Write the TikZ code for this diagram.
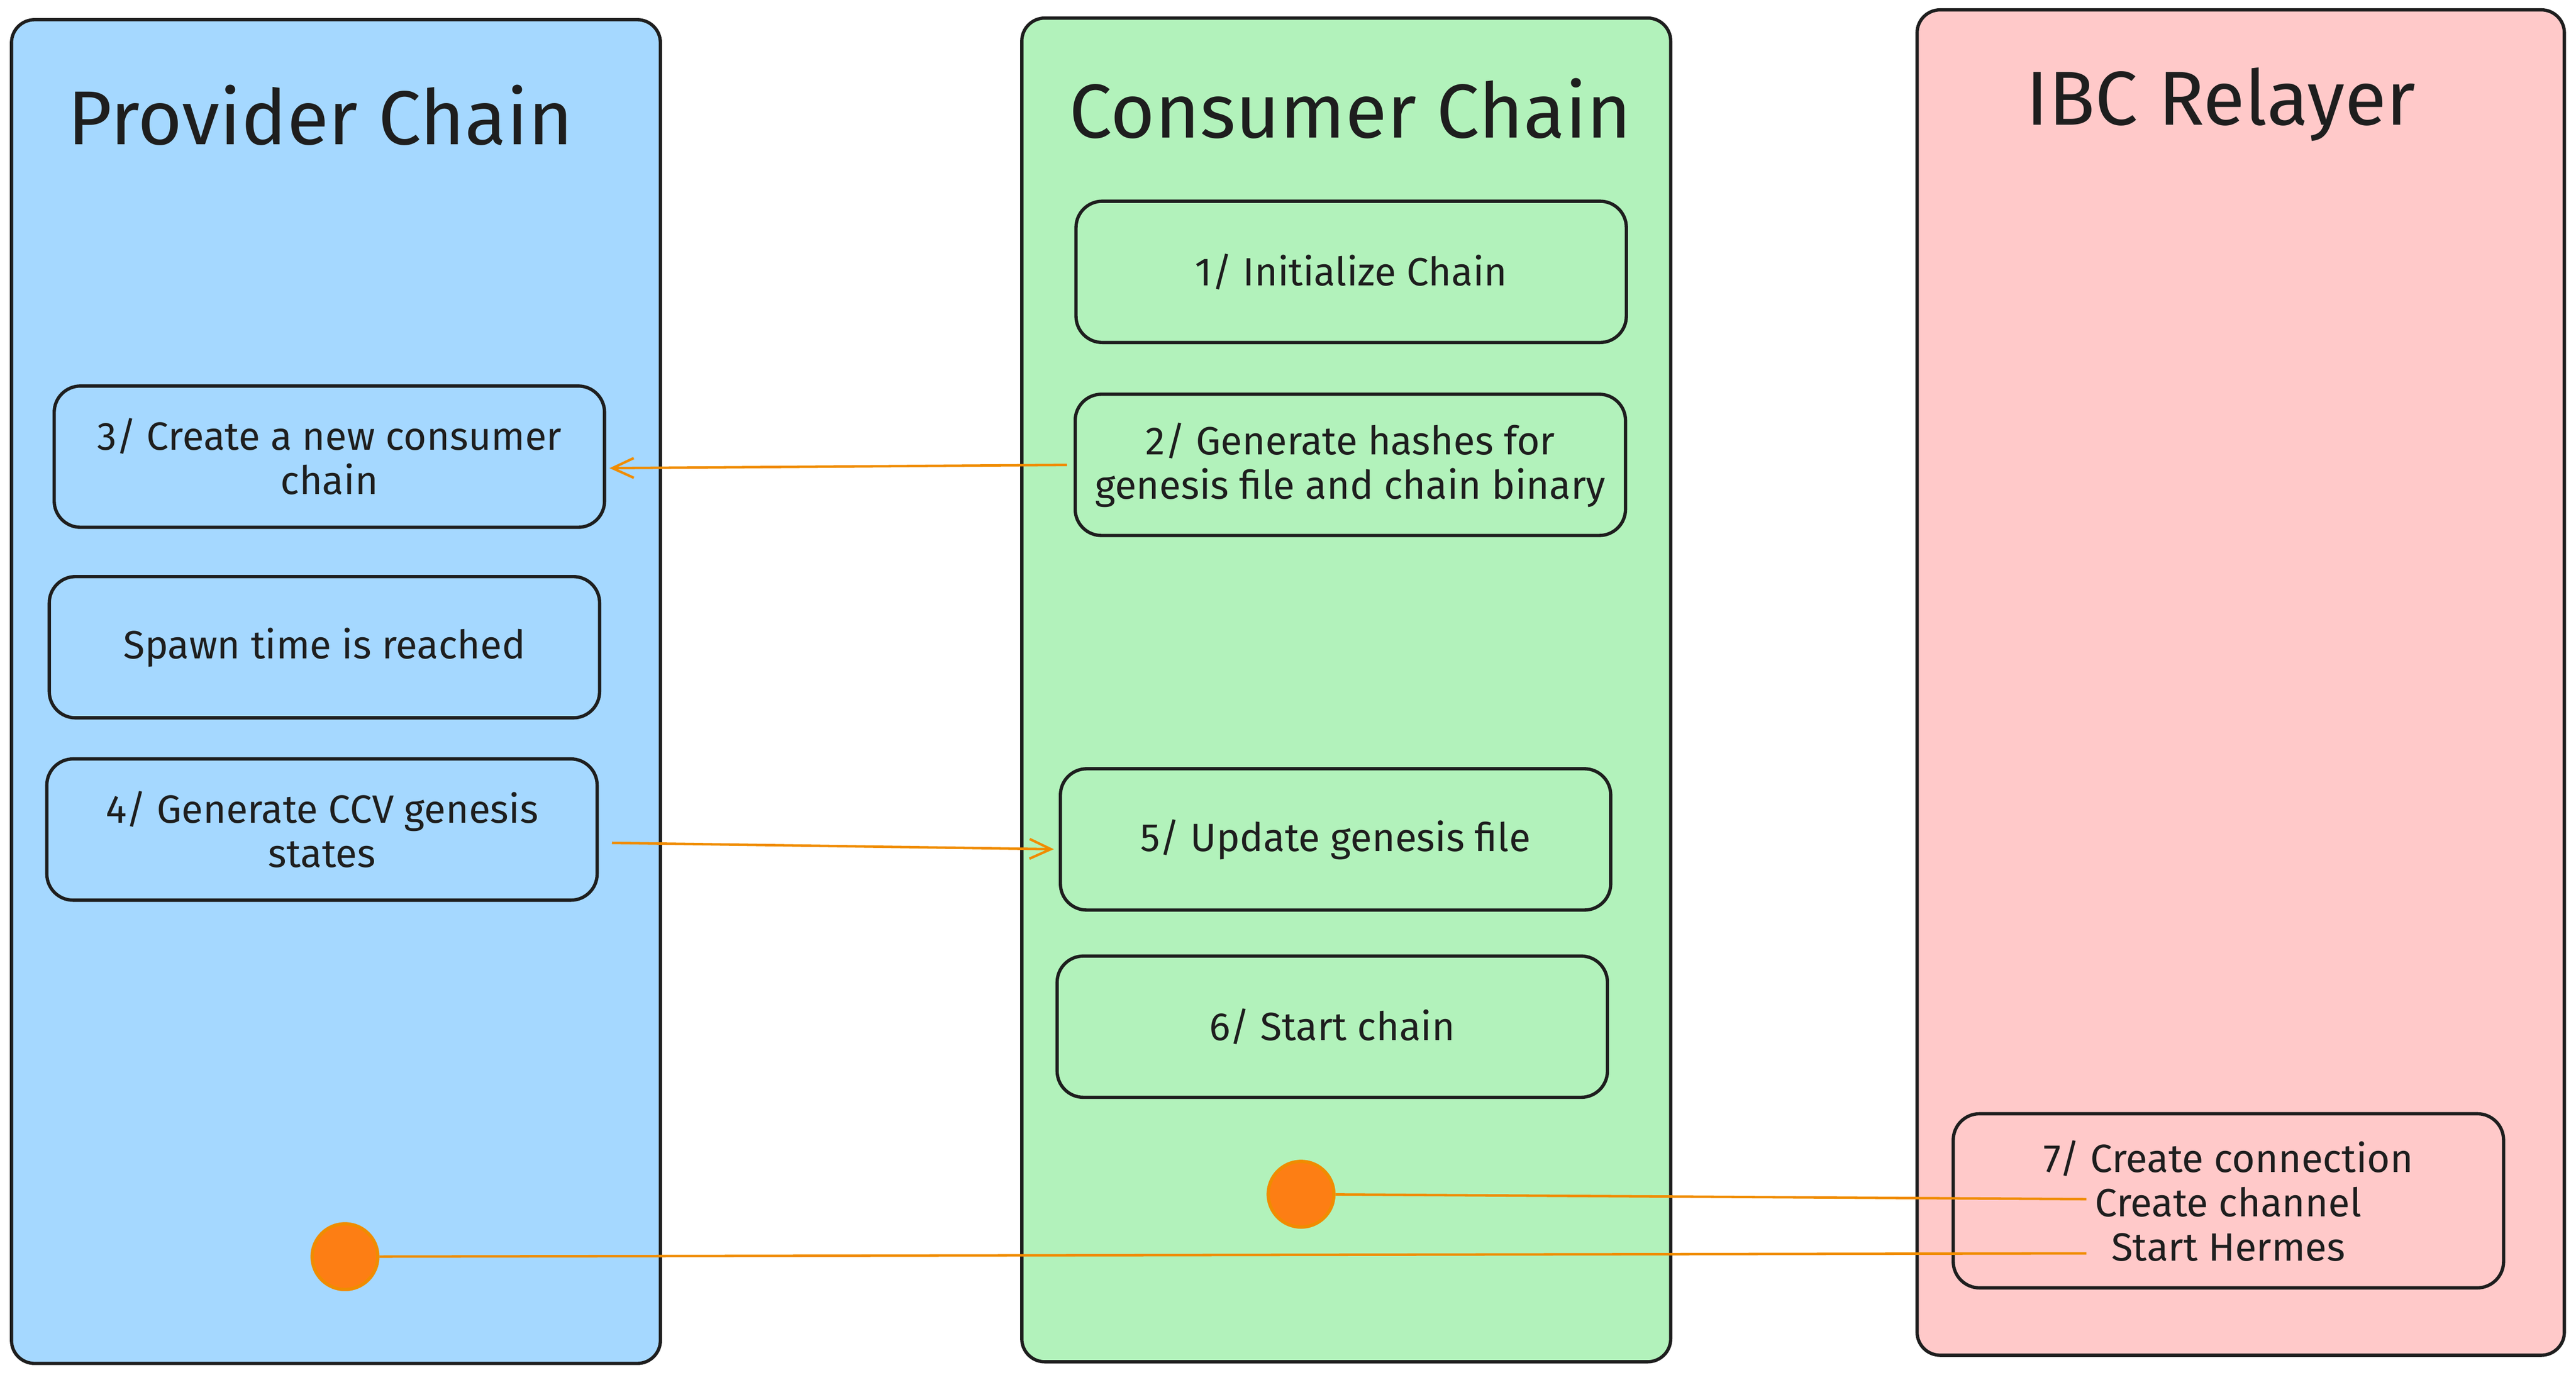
\documentclass[tikz,border=0pt]{standalone}
\usepackage{fontspec}
\setmainfont{Fira Sans}
\usetikzlibrary{arrows.meta}
\definecolor{provfill}{HTML}{A5D8FF}
\definecolor{consfill}{HTML}{B2F2BB}
\definecolor{relfill}{HTML}{FFC9C9}
\definecolor{ink}{HTML}{1E1E1E}
\definecolor{wire}{HTML}{F08C00}
\definecolor{blob}{HTML}{FD7E14}
\begin{document}
\begin{tikzpicture}[x=1pt,y=-1pt,
    lane/.style ={draw=ink, line width=2pt, rounded corners=14pt, inner sep=0pt, minimum width=395pt, minimum height=818pt},
    heading/.style ={text=ink, anchor=base, font=\fontsize{46.5}{52}\selectfont},
    task/.style ={draw=ink, line width=2pt, rounded corners=16pt, minimum width=335pt, minimum height=86pt, align=center, text=ink, font=\fontsize{24}{27}\selectfont},
    endpoint/.style ={circle, draw=wire, fill=blob, line width=2pt, inner sep=0pt, minimum size=40pt},
    >={Straight Barb[length=13pt,width=12pt]}]
   \path[fill=white, use as bounding box] (0,0) rectangle (1568.1,837);
   % the three lanes
   \node[lane, fill=provfill] (provider) at (204.5,421) {};
   \node[lane, fill=consfill] (consumer) at (819.5,420) {};
   \node[lane, fill=relfill, minimum width=394pt, minimum height=819pt] (relayer) at (1364,415.5) {};
   \node[heading] (provT) at (195,88) {Provider Chain};
   \node[heading] (consT) at (822,84) {Consumer Chain};
   \node[heading] (relT)  at (1352,76) {IBC Relayer};
   % steps
   \node[task] (create)  at (200.5,278) {3/ Create a new consumer\\chain};
   \node[task] (spawn)   at (197.5,394) {Spawn time is reached};
   \node[task] (ccv)     at (196,505)   {4/ Generate CCV genesis\\states};
   \node[task] (init)    at (822.5,165.5) {1/ Initialize Chain};
   \node[task] (hashes)  at (822,283)   {2/ Generate hashes for\\genesis file and chain binary};
   \node[task] (update)  at (813,511)   {5/ Update genesis file};
   \node[task] (start)   at (811,625)   {6/ Start chain};
   \node[task, minimum height=106pt] (hermes) at (1356.5,731) {7/ Create connection\\Create channel\\Start Hermes};
   \node[endpoint] (dotP) at (210,765) {};
   \node[endpoint] (dotC) at (792,727) {};
   \coordinate (chan) at (1270,730);
   \coordinate (herm) at (1270,763);
   % connectors
   \draw[wire, line width=1.5pt, ->, shorten <=4pt, shorten >=2pt] (hashes.west) to ([yshift=-7pt]create.east);
   \draw[wire, line width=1.5pt, ->, shorten <=8pt, shorten >=3pt] ([yshift=-8pt]ccv.east) to ([yshift=-6pt]update.west);
   \draw[wire, line width=1.5pt] (chan) to (dotC);
   \draw[wire, line width=1.5pt] (herm) to (dotP);
 \end{tikzpicture}
\end{document}
